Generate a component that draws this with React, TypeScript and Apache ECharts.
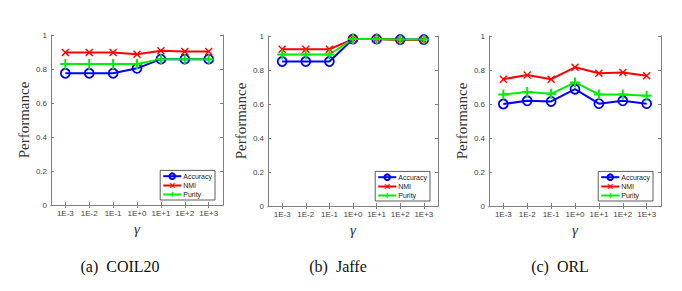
import React, { useEffect, useRef } from "react";
import * as echarts from "echarts";

const categories = ["1E-3", "1E-2", "1E-1", "1E+0", "1E+1", "1E+2", "1E+3"];
const seriesNames = ["Accuracy", "NMI", "Purity"];
const captions = ["(a)  COIL20", "(b)  Jaffe", "(c)  ORL"];

const coilAccuracy = [0.775, 0.775, 0.775, 0.804, 0.858, 0.858, 0.858];
const coilNMI = [0.897, 0.897, 0.897, 0.887, 0.907, 0.903, 0.903];
const coilPurity = [0.829, 0.829, 0.829, 0.829, 0.858, 0.858, 0.858];

const jaffeAccuracy = [0.85, 0.85, 0.85, 0.982, 0.982, 0.979, 0.979];
const jaffeNMI = [0.922, 0.922, 0.922, 0.982, 0.982, 0.976, 0.976];
const jaffePurity = [0.891, 0.891, 0.891, 0.982, 0.982, 0.979, 0.979];

const orlAccuracy = [0.6, 0.619, 0.615, 0.687, 0.602, 0.619, 0.602];
const orlNMI = [0.746, 0.77, 0.746, 0.816, 0.781, 0.785, 0.766];
const orlPurity = [0.656, 0.67, 0.66, 0.727, 0.656, 0.656, 0.648];

const panels = [
  [coilAccuracy, coilNMI, coilPurity],
  [jaffeAccuracy, jaffeNMI, jaffePurity],
  [orlAccuracy, orlNMI, orlPurity],
];

const GRIDS = [
  { left: 51, top: 35, width: 172, height: 170 },
  { left: 268, top: 36, width: 170, height: 170 },
  { left: 489, top: 36, width: 172, height: 170 },
];
const CAPTION_CENTERS = [120, 338, 560];

const X_PATH = "path://M0,1.2 L1.2,0 L5,3.8 L8.8,0 L10,1.2 L6.2,5 L10,8.8 L8.8,10 L5,6.2 L1.2,10 L0,8.8 L3.8,5 Z";
const PLUS_PATH = "path://M4,0 L6,0 L6,4 L10,4 L10,6 L6,6 L6,10 L4,10 L4,6 L0,6 L0,4 L4,4 Z";

const AXIS_COLOR = "#808080";
const LABEL_COLOR = "#444";

export default function App() {
  const ref = useRef<HTMLDivElement>(null);

  useEffect(() => {
    if (!ref.current) return;
    const chart = echarts.init(ref.current, undefined, { renderer: "svg" });
    const xs = categories.map((_, i) => i + 1);

    const xAxis: any[] = [];
    const yAxis: any[] = [];
    const series: any[] = [];
    const legend: any[] = [];
    const graphic: any[] = [];

    GRIDS.forEach((g, p) => {
      xAxis.push({
        type: "value",
        gridIndex: p,
        min: 0.4,
        max: 7.6,
        position: "bottom",
        name: "γ",
        nameLocation: "middle",
        nameGap: 15,
        nameTextStyle: { fontFamily: "Liberation Serif", fontStyle: "italic", fontSize: 15, color: "#333" },
        axisLine: { show: true, lineStyle: { color: AXIS_COLOR, width: 1 } },
        axisTick: { show: true, inside: true, length: 3, customValues: xs, lineStyle: { color: AXIS_COLOR } },
        axisLabel: {
          show: true,
          customValues: xs,
          margin: 4,
          fontSize: 8,
          fontFamily: "Liberation Sans",
          color: LABEL_COLOR,
          formatter: (v: number) => categories[Math.round(v) - 1] ?? "",
        },
        splitLine: { show: false },
      });
      xAxis.push({
        type: "value",
        gridIndex: p,
        min: 0.4,
        max: 7.6,
        position: "top",
        axisLine: { show: true, lineStyle: { color: AXIS_COLOR, width: 1 } },
        axisTick: { show: true, inside: true, length: 3, customValues: xs, lineStyle: { color: AXIS_COLOR } },
        axisLabel: { show: false },
        splitLine: { show: false },
      });
      yAxis.push({
        type: "value",
        gridIndex: p,
        min: 0,
        max: 1,
        interval: 0.2,
        position: "left",
        name: "Performance",
        nameLocation: "middle",
        nameGap: 17,
        nameTextStyle: { fontFamily: "Liberation Serif", fontSize: 15, color: "#333" },
        axisLine: { show: true, lineStyle: { color: AXIS_COLOR, width: 1 } },
        axisTick: { show: true, inside: true, length: 3, lineStyle: { color: AXIS_COLOR } },
        axisLabel: { show: true, margin: 4, fontSize: 8, fontFamily: "Liberation Sans", color: LABEL_COLOR },
        splitLine: { show: false },
      });
      yAxis.push({
        type: "value",
        gridIndex: p,
        min: 0,
        max: 1,
        interval: 0.2,
        position: "right",
        axisLine: { show: true, lineStyle: { color: AXIS_COLOR, width: 1 } },
        axisTick: { show: true, inside: true, length: 3, lineStyle: { color: AXIS_COLOR } },
        axisLabel: { show: false },
        splitLine: { show: false },
      });

      const [acc, nmi, pur] = panels[p];
      const mk = (vals: number[]) => vals.map((v, i) => [xs[i], v]);
      series.push({
        type: "line",
        name: "Accuracy",
        xAxisIndex: 2 * p,
        yAxisIndex: 2 * p,
        data: mk(acc),
        symbol: "circle",
        symbolSize: 9,
        showAllSymbol: true,
        lineStyle: { color: "#0000ff", width: 2 },
        itemStyle: { color: "rgba(255,255,255,0)", borderColor: "#0000ff", borderWidth: 1.8 },
      });
      series.push({
        type: "line",
        name: "NMI",
        xAxisIndex: 2 * p,
        yAxisIndex: 2 * p,
        data: mk(nmi),
        symbol: X_PATH,
        symbolSize: 8,
        showAllSymbol: true,
        lineStyle: { color: "#ff0000", width: 2 },
        itemStyle: { color: "#ff0000" },
      });
      series.push({
        type: "line",
        name: "Purity",
        xAxisIndex: 2 * p,
        yAxisIndex: 2 * p,
        data: mk(pur),
        symbol: PLUS_PATH,
        symbolSize: 10,
        showAllSymbol: true,
        lineStyle: { color: "#00ee00", width: 2 },
        itemStyle: { color: "#00ee00" },
      });

      legend.push({
        data: seriesNames,
        orient: "vertical",
        right: 682 - (g.left + g.width) + 8,
        bottom: 291 - (g.top + g.height) + 5,
        itemWidth: 18,
        itemHeight: 7,
        itemGap: 2,
        padding: [2, 3, 2, 2],
        borderColor: "#333",
        borderWidth: 0.8,
        backgroundColor: "#fff",
        selectedMode: false,
        textStyle: { fontSize: 7, fontFamily: "Liberation Sans", color: "#222", padding: [0, 0, 0, -3] },
      });

      graphic.push({
        type: "text",
        x: CAPTION_CENTERS[p],
        y: 266,
        style: {
          text: captions[p],
          font: "16px 'Liberation Serif', serif",
          fill: "#111",
          align: "center",
          verticalAlign: "middle",
        },
      });
    });

    const option: any = {
      animation: false,
      backgroundColor: "#fff",
      grid: GRIDS.map((g) => ({ ...g, containLabel: false })),
      xAxis,
      yAxis,
      series,
      legend,
      graphic,
    };
    chart.setOption(option);
    return () => chart.dispose();
  }, []);

  return (
    <div
      ref={ref}
      style={{ position: "fixed", left: 0, top: 0, width: 682, height: 291, background: "#fff" }}
    />
  );
}
